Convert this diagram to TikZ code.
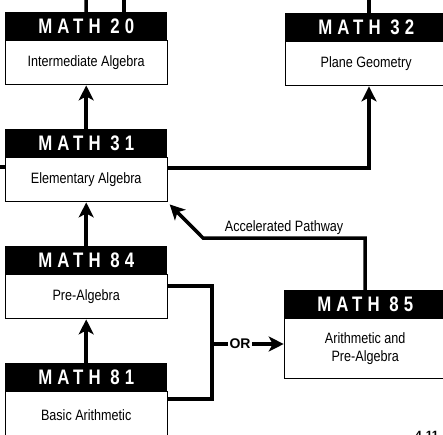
\documentclass[tikz,border=0pt]{standalone}
\usepackage{fontspec}
\setmainfont{Liberation Sans}
\newfontfamily\headfont{Liberation Sans}[FakeStretch=0.8, LetterSpace=24]
\newfontfamily\bodyfont{Liberation Sans}[FakeStretch=0.84]
\usepackage{tikz}
\usetikzlibrary{arrows.meta, positioning}

\begin{document}
\begin{tikzpicture}[x=1pt, y=-1pt,
  course_head/.style={fill=black, text=white, minimum width=162pt, minimum height=28pt,
    inner sep=0pt, font=\headfont\bfseries\fontsize{21}{24}\selectfont},
  course_body/.style={draw=black, line width=1pt, minimum width=162pt, minimum height=44pt,
    inner sep=0pt, align=center, font=\bodyfont\fontsize{15}{18}\selectfont},
  path_line/.style={draw=black, line width=3.5pt},
  arrow/.style={path_line, -{Stealth[length=15pt, width=15pt, inset=4pt]}},
  label_style/.style={font=\bodyfont\fontsize{15}{18}\selectfont, inner sep=2pt}
]

  \useasboundingbox (0,0) rectangle (443,434);
  \clip (0,0) rectangle (443,434);

  % left column
  \node[course_head, anchor=north west] (m20h) at (5,12) {MATH~20};
  \node[course_body, anchor=north] (m20) at (m20h.south) {Intermediate Algebra};
  \node[course_head, anchor=north west] (m31h) at (5,129) {MATH~31};
  \node[course_body, anchor=north] (m31) at (m31h.south) {Elementary Algebra};
  \node[course_head, anchor=north west] (m84h) at (5,246) {MATH~84};
  \node[course_body, anchor=north] (m84) at (m84h.south) {Pre-Algebra};
  \node[course_head, anchor=north west] (m81h) at (5,363) {MATH~81};
  \node[course_body, anchor=north, minimum height=46pt] (m81) at (m81h.south) {Basic Arithmetic};

  % right column
  \node[course_head, anchor=north west] (m32h) at (285,13) {MATH~32};
  \node[course_body, anchor=north] (m32) at (m32h.south) {Plane Geometry};
  \node[course_head, anchor=north west] (m85h) at (284,290) {MATH~85};
  \node[course_body, anchor=north, minimum height=60pt] (m85) at (m85h.south) {Arithmetic and\\Pre-Algebra};

  \coordinate (out20a) at (86,-2);
  \coordinate (out20b) at (124,-2);
  \coordinate (out32) at (369,-2);
  \coordinate (in31) at (-2,167);
  \coordinate (to32) at (369,168);
  \coordinate (or_top) at (212,286);
  \coordinate (or_mid) at (212,344);
  \coordinate (or_bot) at (212,399);
  \coordinate (acc_left) at (203,238);

  \draw[path_line] (m20h.north) -- (out20a);
  \draw[path_line] (out20b) -- (out20b |- m20h.north);
  \draw[path_line] (out32) -- (out32 |- m32h.north);
  \draw[path_line] (in31) -- (m31.west |- in31);

  \draw[arrow] (m31h.north) -- (m20.south);
  \draw[arrow] (m84h.north) -- (m31.south);
  \draw[arrow] (m81h.north) -- (m84.south);
  \draw[arrow] (m31.east |- to32) -- (to32) -- (to32 |- m32.south);

  \draw[path_line] (m84.east |- or_top) -- (or_top) -- (or_bot) -- (m81.east |- or_bot);
  \node[font=\bfseries\fontsize{14}{16}\selectfont, inner sep=1.5pt] (or) at (240,344) {OR};
  \draw[path_line] (or_mid) -- (or);
  \draw[arrow] (or) -- (m85.west |- or);

  \draw[arrow] (m85h.north) -- (m85h.north |- acc_left)
    -- node[above, label_style]{Accelerated Pathway} (acc_left)
    -- ([shift={(2pt,-2pt)}]m31.south east);

  \node[anchor=north west, font=\bfseries\fontsize{12}{14}\selectfont, inner sep=0pt] (page) at (415,431) {4-11};

\end{tikzpicture}
\end{document}
